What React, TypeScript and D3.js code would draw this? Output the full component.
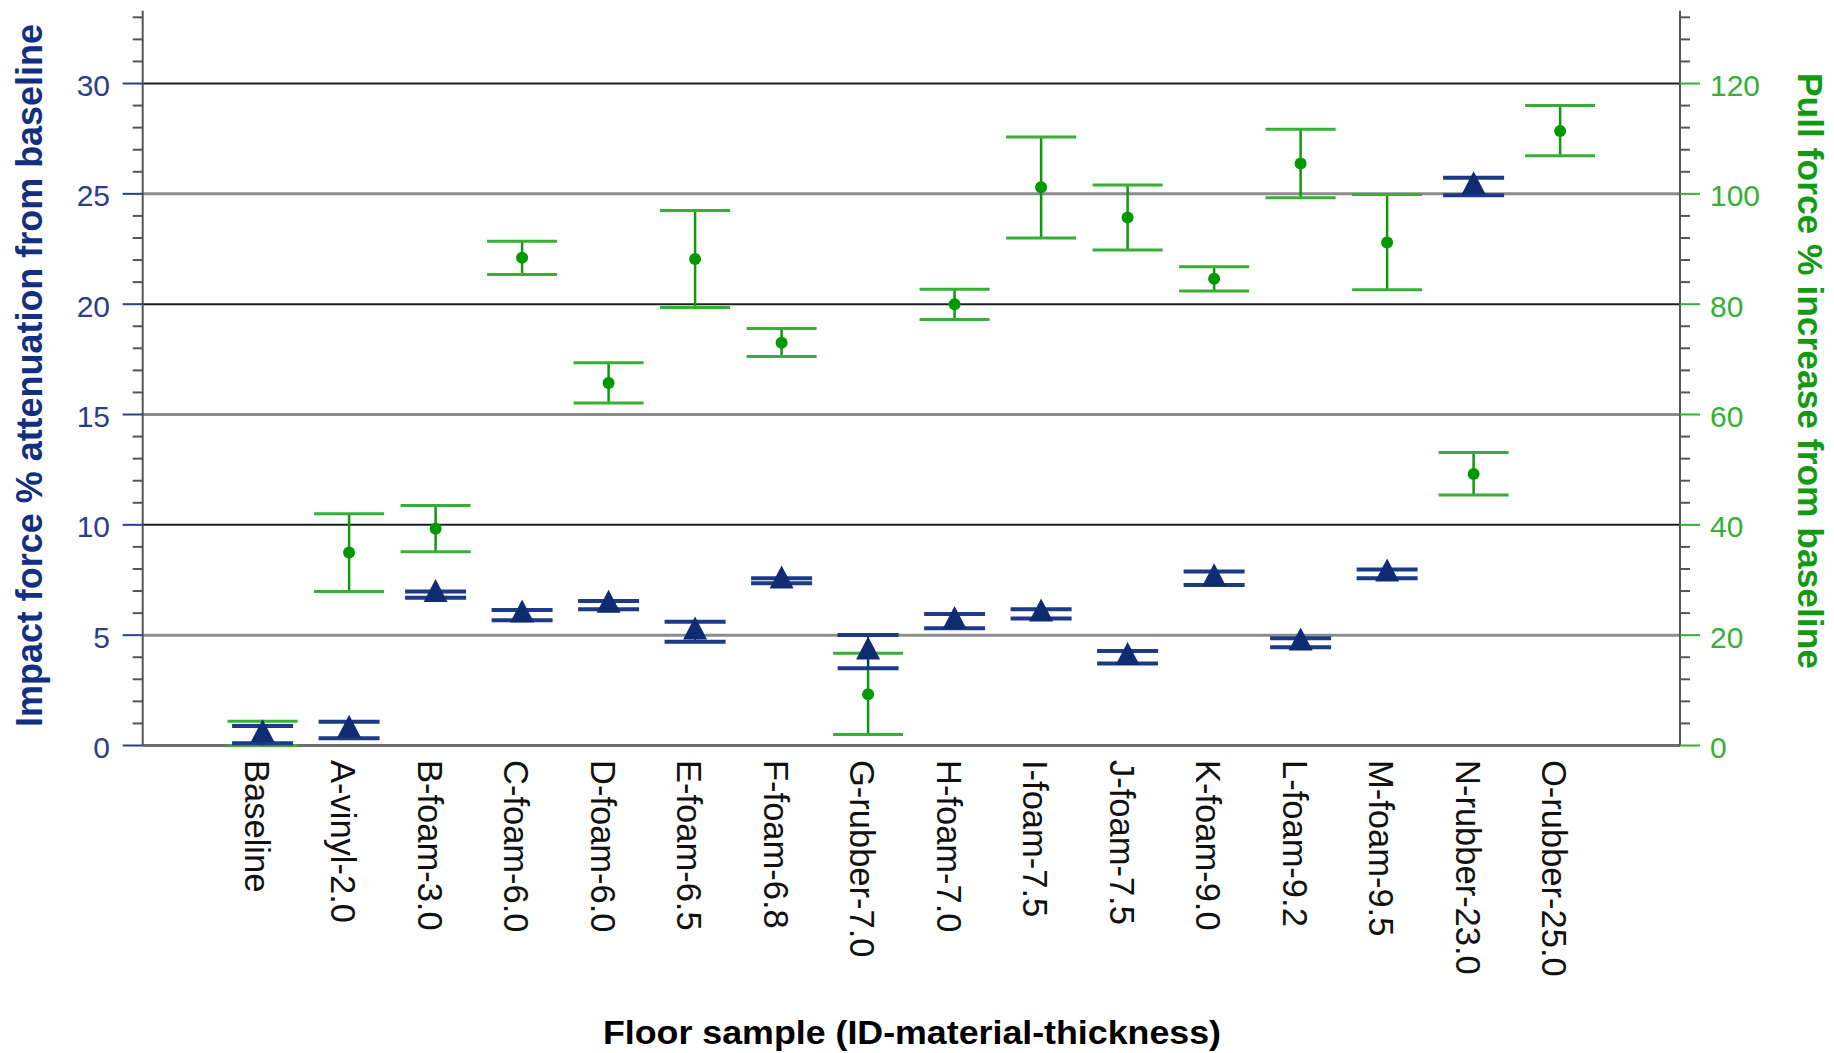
import React, { useEffect } from "react";
import * as d3 from "d3";

const categories = [
  "Baseline", "A-vinyl-2.0", "B-foam-3.0", "C-foam-6.0", "D-foam-6.0", "E-foam-6.5",
  "F-foam-6.8", "G-rubber-7.0", "H-foam-7.0", "I-foam-7.5", "J-foam-7.5", "K-foam-9.0",
  "L-foam-9.2", "M-foam-9.5", "N-rubber-23.0", "O-rubber-25.0",
];

// Impact force % attenuation (left axis)
const impactMean = [0.49, 0.7, 6.85, 5.92, 6.36, 5.15, 7.46, 4.25, 5.63, 5.97, 4.0, 7.57, 4.65, 7.78, 25.33, null];
const impactLo = [0.1, 0.33, 6.7, 5.68, 6.17, 4.7, 7.35, 3.5, 5.31, 5.76, 3.72, 7.27, 4.45, 7.58, 24.94, null];
const impactHi = [0.88, 1.08, 6.98, 6.14, 6.55, 5.61, 7.58, 5.01, 5.96, 6.17, 4.28, 7.88, 4.86, 7.98, 25.73, null];

// Pull force % increase (right axis)
const pullMean = [1.0, 35.0, 39.3, 88.4, 65.7, 88.2, 73.0, 9.3, 80.0, 101.2, 95.7, 84.6, 105.5, 91.2, 49.2, 111.4];
const pullLo = [0.0, 27.9, 35.1, 85.4, 62.1, 79.4, 70.5, 2.0, 77.2, 92.0, 89.8, 82.4, 99.3, 82.6, 45.4, 106.9];
const pullHi = [4.4, 42.0, 43.5, 91.4, 69.4, 97.0, 75.6, 16.7, 82.7, 110.3, 101.6, 86.8, 111.7, 99.9, 53.1, 116.0];

const leftTicks = [0, 5, 10, 15, 20, 25, 30];
const rightTicks = [0, 20, 40, 60, 80, 100, 120];
const leftMinor = d3.range(1, 34).filter((v) => v % 5 !== 0);
const rightMinor = d3.range(4, 133, 4).filter((v) => v % 20 !== 0);
const gridValues = [5, 10, 15, 20, 25, 30];

const W = 1834;
const H = 1053;
const X0 = 142.7;
const X1 = 1680;
const YB = 745.5;
const YT = 10.7;

const FONT = "'Liberation Sans', Arial, Helvetica, sans-serif";
const NAVY = "#0f2c72";
const NAVY_TXT = "#2b3e8c";
const GREEN = "#0e9a0e";
const GREEN_CAP = "#35b035";

export default function App() {
  useEffect(() => {
    document.body.style.margin = "0";
  }, []);

  const x = d3.scalePoint<string>().domain(categories).range([X0, X1]).padding(1.386);
  const yL = d3.scaleLinear().domain([0, 33.3]).range([YB, YT]);
  const yR = d3.scaleLinear().domain([0, 133.2]).range([YB, YT]);

  const triW = 24;
  const triH = 23;
  const blueCap = 61;
  const greenCap = 70;

  return (
    <svg width={W} height={H} style={{ display: "block", background: "#fff" }} fontFamily={FONT}>
      {/* gridlines */}
      {gridValues.map((v) => (
        <line
          key={"g" + v}
          x1={X0}
          x2={X1}
          y1={yL(v)}
          y2={yL(v)}
          stroke={v % 10 === 0 ? "#1e1e1e" : "#8c8c8c"}
          strokeWidth={v % 10 === 0 ? 2 : 3}
        />
      ))}
      {/* bottom axis */}
      <line x1={X0} x2={X1} y1={YB} y2={YB} stroke="#6e6e6e" strokeWidth={3} />

      {/* left axis */}
      <line x1={X0} x2={X0} y1={YT} y2={YB} stroke="#555" strokeWidth={2} />
      {leftMinor.map((v) => (
        <line key={"lm" + v} x1={X0 - 10} x2={X0} y1={yL(v)} y2={yL(v)} stroke="#555" strokeWidth={2} />
      ))}
      {leftTicks.map((v) => (
        <g key={"lt" + v}>
          <line x1={X0 - 20} x2={X0} y1={yL(v)} y2={yL(v)} stroke={NAVY_TXT} strokeWidth={2} />
          <text x={110} y={yL(v) + 2} textAnchor="end" dominantBaseline="central" fontSize={30} fill={NAVY_TXT}>
            {v}
          </text>
        </g>
      ))}

      {/* right axis */}
      <line x1={X1} x2={X1} y1={YT} y2={YB} stroke="#555" strokeWidth={2} />
      {rightMinor.map((v) => (
        <line key={"rm" + v} x1={X1} x2={X1 + 10} y1={yR(v)} y2={yR(v)} stroke="#555" strokeWidth={2} />
      ))}
      {rightTicks.map((v) => (
        <g key={"rt" + v}>
          <line x1={X1} x2={X1 + 20} y1={yR(v)} y2={yR(v)} stroke={GREEN_CAP} strokeWidth={2} />
          <text x={1710} y={yR(v) + 2} textAnchor="start" dominantBaseline="central" fontSize={30} fill={GREEN_CAP}>
            {v}
          </text>
        </g>
      ))}

      {/* pull force error bars (green) */}
      {categories.map((c, i) => {
        const cx = x(c)!;
        return (
          <g key={"p" + c}>
            <line x1={cx} x2={cx} y1={yR(pullLo[i])} y2={yR(pullHi[i])} stroke={GREEN} strokeWidth={2.5} />
            <line x1={cx - greenCap / 2} x2={cx + greenCap / 2} y1={yR(pullHi[i])} y2={yR(pullHi[i])} stroke={GREEN_CAP} strokeWidth={3} />
            <line x1={cx - greenCap / 2} x2={cx + greenCap / 2} y1={yR(pullLo[i])} y2={yR(pullLo[i])} stroke={GREEN_CAP} strokeWidth={3} />
            <circle cx={cx} cy={yR(pullMean[i])} r={6} fill="#009a00" />
          </g>
        );
      })}

      {/* impact error bars (blue) */}
      {categories.map((c, i) => {
        const m = impactMean[i];
        const lo = impactLo[i];
        const hi = impactHi[i];
        if (m == null || lo == null || hi == null) return null;
        const cx = x(c)!;
        const cy = yL(m);
        const tri = `M${cx},${cy - (2 * triH) / 3}L${cx + triW / 2},${cy + triH / 3}L${cx - triW / 2},${cy + triH / 3}Z`;
        return (
          <g key={"i" + c}>
            <line x1={cx} x2={cx} y1={yL(lo)} y2={yL(hi)} stroke={NAVY} strokeWidth={2} />
            <line x1={cx - blueCap / 2} x2={cx + blueCap / 2} y1={yL(hi)} y2={yL(hi)} stroke="#1d3a88" strokeWidth={4} />
            <line x1={cx - blueCap / 2} x2={cx + blueCap / 2} y1={yL(lo)} y2={yL(lo)} stroke="#1d3a88" strokeWidth={4} />
            <path d={tri} fill={NAVY} />
          </g>
        );
      })}

      {/* category labels */}
      {categories.map((c) => (
        <text
          key={"c" + c}
          transform={`translate(${x(c)! - 6},760) rotate(90)`}
          dominantBaseline="central"
          fontSize={34.5}
          fill="#111"
        >
          {c}
        </text>
      ))}

      {/* axis titles */}
      <text
        transform={`translate(41.7,375.5) rotate(-90)`}
        textAnchor="middle"
        fontSize={36}
        fontWeight="bold"
        fill="#12307f"
        textLength={703}
        lengthAdjust="spacingAndGlyphs"
      >
        Impact force % attenuation from baseline
      </text>
      <text
        transform={`translate(1798,371) rotate(90)`}
        textAnchor="middle"
        fontSize={35.5}
        fontWeight="bold"
        fill="#139a13"
        textLength={596}
        lengthAdjust="spacingAndGlyphs"
      >
        Pull force % increase from baseline
      </text>
      <text
        x={912}
        y={1044}
        textAnchor="middle"
        fontSize={33}
        fontWeight="bold"
        fill="#000"
        textLength={618}
        lengthAdjust="spacingAndGlyphs"
      >
        Floor sample (ID-material-thickness)
      </text>
    </svg>
  );
}
